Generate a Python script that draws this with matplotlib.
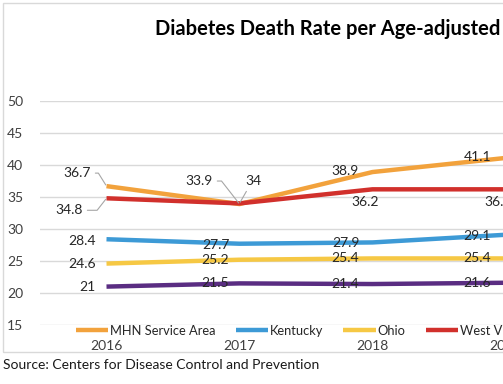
import matplotlib
matplotlib.use("Agg")
import matplotlib.pyplot as plt
from matplotlib.patches import Rectangle

plt.rcParams['font.family'] = ['Lato', 'DejaVu Sans']

years = ["2016", "2017", "2018", "2019"]
mhn = [36.7, 33.9, 38.9, 41.1]
kentucky = [28.4, 27.7, 27.9, 29.1]
ohio = [24.6, 25.2, 25.4, 25.4]
west_virginia = [34.8, 34.0, 36.2, 36.2]
united_states = [21.0, 21.5, 21.4, 21.6]

series = [
    ("MHN Service Area", mhn, "#F2A23C"),
    ("Kentucky", kentucky, "#3D9AD6"),
    ("Ohio", ohio, "#F6C844"),
    ("West Virginia", west_virginia, "#D1302C"),
    ("United States", united_states, "#5A2D82"),
]

# label offsets in pixels (dx, dy) per series, per year
offsets = {
    "MHN Service Area": [(-29, 13), (-40, 23), (-27, 1), (-28, 1)],
    "Kentucky": [(-24, -2), (-24, -1), (-27, -1), (-28, -1)],
    "Ohio": [(-24, 0), (-24, 0), (-27, 0), (-28, 0)],
    "West Virginia": [(-37, -12), (14, 22), (-7, -13), (-7, -13)],
    "United States": [(-19, 0), (-24, 0), (-27, 0), (-28, 0)],
}
# leader lines: (relpos, connection style)
leaders = {
    ("MHN Service Area", 0): ((1, 0.5), "angle,angleA=0,angleB=122,rad=0"),
    ("MHN Service Area", 1): ((1, 0.5), "angle,angleA=0,angleB=128,rad=0"),
    ("West Virginia", 0): ((1, 0.5), "angle,angleA=0,angleB=52,rad=0"),
    ("West Virginia", 1): ((0.2, 0), "arc3,rad=0"),
}

W, H = 503, 384
fig = plt.figure(figsize=(W / 100, H / 100), dpi=100)

# chart border
fig.patches.append(Rectangle((3 / W, 1 - 352 / H), 1.2, (352 - 3) / H,
                             transform=fig.transFigure, fill=False,
                             edgecolor="#D9D9D9", lw=1))

ax = fig.add_axes([40 / W, 1 - 325 / H, 532 / W, (325 - 101) / H])
x = list(range(len(years)))
for name, vals, col in series:
    ax.plot(x, vals, color=col, lw=3.2, label=name, solid_capstyle="butt")
    for i, v in enumerate(vals):
        dx, dy = offsets[name][i]
        fmt = f"{v:g}"
        arrow = None
        if (name, i) in leaders:
            rel, cs = leaders[(name, i)]
            arrow = dict(arrowstyle="-", color="#A6A6A6", lw=0.8,
                         shrinkA=1, shrinkB=1, relpos=rel, connectionstyle=cs)
        ax.annotate(fmt, (i, v), xytext=(dx * 0.72, dy * 0.72),
                    textcoords="offset points", ha="center", va="center",
                    fontsize=10, color="#262626", arrowprops=arrow)

ax.set_xlim(-0.5, 3.5)
ax.set_ylim(15, 50)
ax.set_yticks(range(15, 51, 5))
ax.set_xticks(x)
ax.set_xticklabels(years)
ax.grid(axis="y", color="#D9D9D9", lw=1)
ax.set_axisbelow(True)
for s in ax.spines.values():
    s.set_visible(False)
ax.tick_params(length=0, labelsize=10, colors="#404040")
ax.tick_params(axis="x", pad=11)
ax.tick_params(axis="y", pad=12)

fig.text(155 / W, 1 - 29 / H, "Diabetes Death Rate per Age-adjusted 100,000",
         fontsize=14.5, fontweight="bold", ha="left", va="center", color="#000000")

fig.legend(loc="center left", bbox_to_anchor=(76 / W, 1 - 331 / H), ncol=5,
           frameon=False, fontsize=9.3, handlelength=2.5, handletextpad=0.15,
           columnspacing=1.55, borderaxespad=0, borderpad=0,
           labelcolor="#262626")

fig.text(3 / W, 1 - 365 / H, "Source: Centers for Disease Control and Prevention",
         fontsize=10, ha="left", va="center", color="#1A1A1A")

fig.savefig("out.png", dpi=100)
